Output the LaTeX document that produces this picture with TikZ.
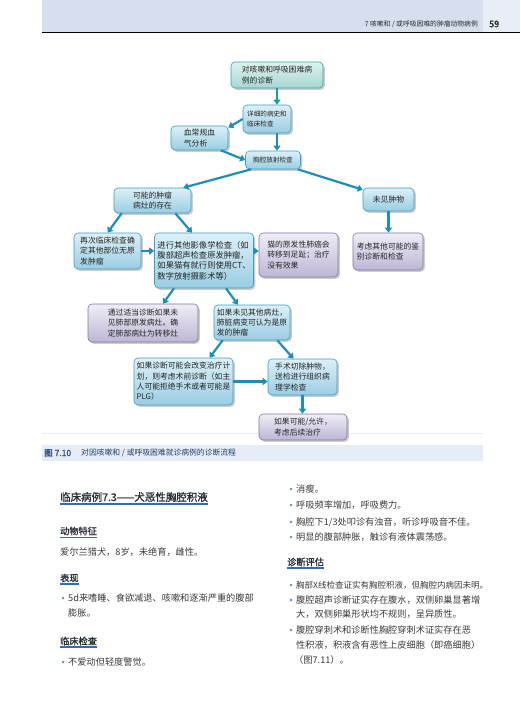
\documentclass[tikz,border=0pt]{standalone}
\usepackage{fontspec}
\usepackage{tikz}
\usetikzlibrary{arrows.meta,calc,positioning,shadows}
\newfontfamily\cjk[AutoFakeBold=1.2]{Noto Sans CJK SC}
\usepackage{xcolor}
\definecolor{headband}{HTML}{D5DFEE}
\definecolor{headside}{HTML}{E9EEF6}
\definecolor{headline}{HTML}{6F93C4}
\definecolor{capband}{HTML}{E5ECF6}
\definecolor{capblue}{HTML}{2E4C7E}
\definecolor{arrowc}{HTML}{1E8DB8}
\definecolor{tealc}{HTML}{17A0A0}
\definecolor{blueedge}{HTML}{3E9DC2}
\definecolor{bluetop}{HTML}{DCF0F7}
\definecolor{bluebot}{HTML}{9ACDE2}
\definecolor{tealedge}{HTML}{3BA3A3}
\definecolor{tealtop}{HTML}{DFF2EF}
\definecolor{tealbot}{HTML}{A6D6D1}
\definecolor{purpedge}{HTML}{7D77A1}
\definecolor{purptop}{HTML}{EFEDF6}
\definecolor{purpbot}{HTML}{BDB6D5}
\definecolor{bodytext}{HTML}{3A3A3A}
\definecolor{headtext}{HTML}{262B36}
\definecolor{ulc}{HTML}{2F6DB5}
\definecolor{bulletc}{HTML}{5B8CC8}
\newcommand{\boxfont}{\cjk\fontsize{7.8}{10.3}\selectfont}
\newcommand{\bodyfont}{\cjk\fontsize{9.2}{12}\selectfont}

\begin{document}
\begin{tikzpicture}[x=1pt,y=-1pt,
    fbox/.style={line width=0.6pt,rounded corners=4pt,align=left,font=\boxfont,
        inner sep=2pt,text=black!85,
        drop shadow={shadow xshift=1.8pt,shadow yshift=-1.8pt,opacity=0.4}},
    bluebox/.style={fbox,draw=blueedge,top color=bluetop,bottom color=bluebot},
    tealbox/.style={fbox,draw=tealedge,top color=tealtop,bottom color=tealbot},
    purplebox/.style={fbox,draw=purpedge,top color=purptop,bottom color=purpbot},
    arr/.style={arrowc,line width=2.2pt,-{Triangle[length=5pt,width=7pt]}},
    body/.style={anchor=west,inner sep=0pt,font=\bodyfont,text=bodytext},
    headline/.style={anchor=west,inner sep=0pt,font=\cjk\bfseries\fontsize{9.2}{11}\selectfont,text=headtext}]
    \useasboundingbox (0,0) rectangle (520,706);

    % running head
    \fill[headband] (42,0) rectangle (483,33);
    \fill[headside] (483,0) rectangle (520,33);
    \draw[headline,line width=1pt] (42,33) -- (520,33);
    \node[anchor=east,inner sep=0pt,font=\cjk\fontsize{6.8}{8}\selectfont,text=headtext] (runhead) at (478,24) {7 咳嗽和 / 或呼吸困难的肿瘤动物病例};
    \node[anchor=west,inner sep=0pt,font=\cjk\bfseries\fontsize{9}{10}\selectfont,text=headtext] (pageno) at (489,24) {59};

    % figure rule, behind the chart
    \draw[black!8,line width=0.5pt] (42,433) -- (483,433);

    % flow chart
    \node[tealbox,minimum width=92pt,minimum height=26pt] (diag) at (277,75) {对咳嗽和呼吸困难病\\例的诊断};
    \node[bluebox,minimum width=48pt,minimum height=28pt,font=\cjk\fontsize{6.6}{9.5}\selectfont] (hist) at (267,119) {详细的病史和\\临床检查};
    \node[bluebox,minimum width=57pt,minimum height=24pt] (blood) at (199.5,138) {血常规血\\气分析};
    \node[bluebox,minimum width=55pt,minimum height=18pt,font=\cjk\fontsize{6.6}{9.5}\selectfont] (xray) at (273,160) {胸腔放射检查};
    \node[bluebox,minimum width=77pt,minimum height=25pt] (mass) at (152.5,200.5) {可能的肿瘤\\病灶的存在};
    \node[bluebox,minimum width=51pt,minimum height=23pt] (nomass) at (388.5,199.5) {未见肿物};
    \node[bluebox,minimum width=67pt,minimum height=36pt] (recheck) at (107.5,251) {再次临床检查确\\定其他部位无原\\发肿瘤};
    \node[bluebox,minimum width=99pt,minimum height=55pt,font=\cjk\fontsize{8.3}{10.3}\selectfont] (imaging) at (204,260.5) {进行其他影像学检查（如\\腹部超声检查原发肿瘤，\\如果猫有就行则使用CT、\\数字放射摄影术等）};
    \node[purplebox,minimum width=79pt,minimum height=44pt] (digit) at (298.5,255) {猫的原发性肺癌会\\转移到足趾；治疗\\没有效果};
    \node[purplebox,minimum width=70pt,minimum height=37pt] (other) at (388,251.5) {考虑其他可能的鉴\\别诊断和检查};
    \node[purplebox,minimum width=110pt,minimum height=38pt] (meta) at (143,323) {通过适当诊断如果未\\见肺部原发病灶。确\\定肺部病灶为转移灶};
    \node[bluebox,minimum width=76pt,minimum height=35pt] (primary) at (252,322.5) {如果未见其他病灶，\\肺脏病变可认为是原\\发的肿瘤};
    \node[bluebox,minimum width=99pt,minimum height=47pt] (presurg) at (183.5,381.5) {如果诊断可能会改变治疗计\\划，则考虑术前诊断（如主\\人可能拒绝手术或者可能是\\PLG）};
    \node[bluebox,minimum width=69pt,minimum height=36pt] (surgery) at (302.5,377) {手术切除肿物，\\送检进行组织病\\理学检查};
    \node[purplebox,minimum width=88pt,minimum height=26pt] (followup) at (303,427) {如果可能/允许，\\考虑后续治疗};

    \draw[arr,tealc] (diag.south) -- (diag.south |- hist.north);
    \draw[arr] (hist.west) -- (blood.20);
    \draw[arr] (blood.-30) -- (xray.west);
    \draw[arr] ([xshift=10pt]hist.south) -- ([xshift=10pt]hist.south |- xray.north);
    \draw[arr] ([xshift=6pt]xray.south west) -- ([xshift=-8pt]mass.north east);
    \draw[arr] ([xshift=-3pt]xray.south east) -- ([yshift=-2pt]nomass.north west);
    \draw[arr] ([xshift=8pt]mass.south west) -- (recheck.north);
    \draw[arr] ([xshift=-16pt]mass.south east) -- ([xshift=-12pt]imaging.north);
    \draw[arr] (recheck.east) -- (recheck.east -| imaging.west);
    \draw[arr] (imaging.east |- recheck.east) -- (digit.west |- recheck.east);
    \draw[arr] (nomass.south) -- (nomass.south |- other.north);
    \draw[arr] ([xshift=-30pt]imaging.south) -- ([xshift=20pt]meta.north);
    \draw[arr] ([xshift=22pt]imaging.south) -- ([xshift=-14pt]primary.north);
    \draw[arr] ([xshift=9pt]primary.south west) -- ([xshift=26pt]presurg.north);
    \draw[arr] ([xshift=-13pt]primary.south east) -- ([xshift=-9pt]surgery.north);
    \draw[arr] (presurg.east) -- (presurg.east -| surgery.west);
    \draw[arr] (surgery.south) -- (surgery.south |- followup.north);

    % caption
    \fill[capband] (42,445) rectangle (483,461);
    \node[anchor=west,inner sep=0pt,font=\cjk\bfseries\fontsize{8.5}{9}\selectfont,text=capblue] (figno) at (44,453) {图 7.10};
    \node[anchor=west,inner sep=0pt,font=\cjk\fontsize{7.8}{9}\selectfont,text=capblue!80!black] (captext) at (81,453) {对因咳嗽和 / 或呼吸困难就诊病例的诊断流程};

    % left column
    \node[headline,font=\cjk\bfseries\fontsize{10.5}{12}\selectfont] (title) at (60,497) {临床病例7.3——犬恶性胸腔积液};
    \draw[ulc,line width=1.6pt] (60,504) -- (title.east |- 0,504);
    \node[headline] (signal) at (60,531) {动物特征};
    \draw[ulc,line width=1.6pt] (60,537.5) -- (signal.east |- 0,537.5);
    \node[body] (breed) at (60,552) {爱尔兰猎犬，8岁，未绝育，雌性。};
    \node[headline] (present) at (60,578) {表现};
    \draw[ulc,line width=1.6pt] (60,584) -- (present.east |- 0,584);
    \node[body] (pres1) at (68,598) {5d来嗜睡、食欲减退、咳嗽和逐渐严重的腹部};
    \node[body] (pres1b) at (68,613) {膨胀。};
    \node[headline] (exam) at (60,641) {临床检查};
    \draw[ulc,line width=1.6pt] (60,647) -- (exam.east |- 0,647);
    \node[body] (exam1) at (68,662) {不爱动但轻度警觉。};
    \foreach \yy in {598,662} \fill[bulletc] (63,\yy) circle (1.4);

    % right column
    \node[body] (ex2) at (296,489) {消瘦。};
    \node[body] (ex3) at (296,505) {呼吸频率增加，呼吸费力。};
    \node[body] (ex4) at (296,522) {胸腔下1/3处叩诊有浊音，听诊呼吸音不佳。};
    \node[body] (ex5) at (296,537) {明显的腹部肿胀，触诊有液体震荡感。};
    \node[headline] (assess) at (287,562) {诊断评估};
    \draw[ulc,line width=1.6pt] (287,568) -- (assess.east |- 0,568);
    \node[body,font=\cjk\fontsize{8.5}{12}\selectfont] (as1) at (296,585) {胸部X线检查证实有胸腔积液，但胸腔内病因未明。};
    \node[body] (as2) at (296,600) {腹腔超声诊断证实存在腹水，双侧卵巢显著增};
    \node[body] (as2b) at (296,614) {大，双侧卵巢形状均不规则，呈异质性。};
    \node[body] (as3) at (296,630) {腹腔穿刺术和诊断性胸腔穿刺术证实存在恶};
    \node[body] (as3b) at (296,645) {性积液，积液含有恶性上皮细胞（即癌细胞）};
    \node[body] (as3c) at (294,660) {（图7.11）。};
    \foreach \yy in {489,505,522,537,585,600,630} \fill[bulletc] (291,\yy) circle (1.4);
\end{tikzpicture}
\end{document}
